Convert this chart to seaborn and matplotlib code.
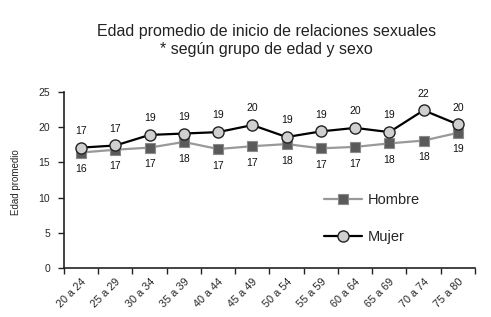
import seaborn as sns
import matplotlib.pyplot as plt
import pandas as pd

# Data
grupos = ["20 a 24", "25 a 29", "30 a 34", "35 a 39", "40 a 44", "45 a 49",
          "50 a 54", "55 a 59", "60 a 64", "65 a 69", "70 a 74", "75 a 80"]
hombre = [16.4, 16.8, 17.1, 17.9, 16.9, 17.3, 17.6, 17.0, 17.2, 17.7, 18.1, 19.2]
mujer = [17.1, 17.4, 18.9, 19.1, 19.3, 20.3, 18.6, 19.4, 19.9, 19.3, 22.4, 20.4]

sns.set_theme(style="white")
plt.rcParams['font.family'] = ['Liberation Sans', 'DejaVu Sans']

df = pd.DataFrame({"Grupo": grupos, "Hombre": hombre, "Mujer": mujer})

fig = plt.figure(figsize=(4.91, 3.17), dpi=100)
ax = fig.add_axes([0.1303, 0.1546, 0.8371, 0.5552])

sns.lineplot(data=df, x="Grupo", y="Hombre", ax=ax, sort=False, color='#999999',
             lw=1.6, marker='s', markersize=7, markerfacecolor='#5a5a5a',
             markeredgecolor='#8a8a8a', markeredgewidth=0.8, label="Hombre")
sns.lineplot(data=df, x="Grupo", y="Mujer", ax=ax, sort=False, color='black',
             lw=1.6, marker='o', markersize=8, markerfacecolor='#d0d0d0',
             markeredgecolor='#222222', markeredgewidth=1.0, label="Mujer")

# value labels
for i, v in enumerate(mujer):
    ax.annotate(f"{v:.0f}", (i, v), xytext=(0, 12), textcoords='offset points',
                ha='center', va='center', fontsize=7.5, color='#111111')
for i, v in enumerate(hombre):
    ax.annotate(f"{v:.0f}", (i, v), xytext=(0, -12), textcoords='offset points',
                ha='center', va='center', fontsize=7.5, color='#111111')

ax.set_xlim(-0.5, len(grupos) - 0.5)
ax.set_ylim(0, 25)
ax.set_yticks([0, 5, 10, 15, 20, 25])
ax.set_xticks(range(len(grupos)))
ax.set_xticklabels(grupos, rotation=45, ha='right', rotation_mode='anchor')
ax.set_xticks([i - 0.5 for i in range(len(grupos) + 1)], minor=True)
ax.tick_params(axis='x', which='major', length=0, labelsize=7.8, pad=6)
ax.tick_params(axis='x', which='minor', length=4, width=1, color='#222222', bottom=True)
ax.tick_params(axis='y', length=4, width=1, color='#222222', left=True, labelsize=7.5, pad=6)

for axis in ['bottom', 'left']:
    ax.spines[axis].set_linewidth(1.2)
    ax.spines[axis].set_color('#222222')
ax.spines['top'].set_visible(False)
ax.spines['right'].set_visible(False)

ax.set_xlabel(None)
ax.set_ylabel("Edad promedio", fontsize=7)
ax.yaxis.set_label_coords(-0.105, 0.49)

ax.legend(loc='upper left', bbox_to_anchor=(0.6, 0.5), frameon=False,
          fontsize=10.5, handlelength=2.6, labelspacing=1.6, handletextpad=0.4)

fig.text(0.542, 0.872, "Edad promedio de inicio de relaciones sexuales\n* según grupo de edad y sexo",
         ha='center', va='center', fontsize=11.5, color='#222222', linespacing=1.25)

plt.savefig('out.png', dpi=100)
